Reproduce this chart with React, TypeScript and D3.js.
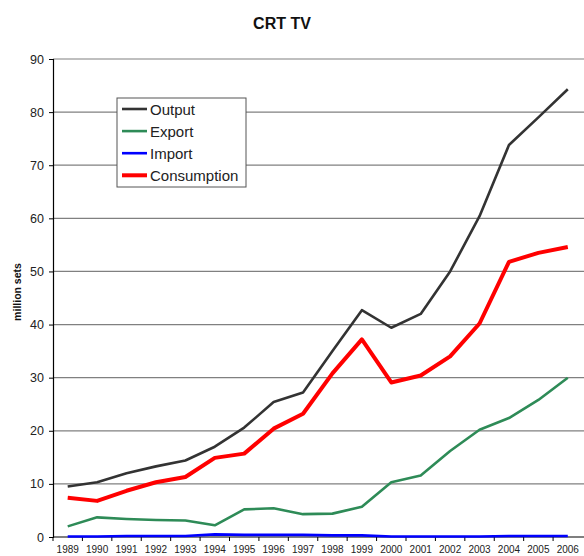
import React, { useRef, useEffect } from "react";
import * as d3 from "d3";

// chart data
const years = [
  "1989", "1990", "1991", "1992", "1993", "1994", "1995", "1996", "1997",
  "1998", "1999", "2000", "2001", "2002", "2003", "2004", "2005", "2006",
];
const output = [9.5, 10.3, 12, 13.3, 14.4, 17, 20.6, 25.4, 27.2, 35, 42.7, 39.4, 42, 50, 60.4, 73.8, 79, 84.3];
const exportVals = [2.0, 3.7, 3.4, 3.2, 3.1, 2.2, 5.2, 5.4, 4.3, 4.4, 5.7, 10.3, 11.6, 16.2, 20.2, 22.4, 25.8, 30.0];
const importVals = [0.1, 0.1, 0.2, 0.2, 0.2, 0.5, 0.4, 0.4, 0.4, 0.3, 0.3, 0.1, 0.1, 0.1, 0.1, 0.2, 0.2, 0.2];
const consumption = [7.4, 6.8, 8.7, 10.3, 11.3, 14.9, 15.7, 20.4, 23.2, 30.8, 37.2, 29.1, 30.4, 34, 40.2, 51.8, 53.5, 54.6];
const yTicks = [0, 10, 20, 30, 40, 50, 60, 70, 80, 90];

const series = [
  { name: "Output", values: output, color: "#333333", width: 2.6 },
  { name: "Export", values: exportVals, color: "#2e8b57", width: 2.6 },
  { name: "Import", values: importVals, color: "#0000ff", width: 2.6 },
  { name: "Consumption", values: consumption, color: "#ff0000", width: 4 },
];

function App() {
  const svgRef = useRef<SVGSVGElement>(null);

  useEffect(() => {
    const svg = d3.select(svgRef.current);
    svg.selectAll("*").remove();

    const font = "'Liberation Sans', Arial, sans-serif";
    const left = 53, right = 582.5, top = 59, bottom = 537;

    const x = d3.scaleBand().domain(years).range([left, right]).padding(0);
    const y = d3.scaleLinear().domain([0, 90]).range([bottom, top]);

    // title
    svg.append("text")
      .attr("x", 282).attr("y", 29)
      .attr("text-anchor", "middle")
      .attr("font-family", font).attr("font-weight", "bold").attr("font-size", 16)
      .attr("fill", "#111")
      .text("CRT TV");

    // gridlines
    svg.append("g")
      .selectAll("line")
      .data(yTicks.filter((d) => d > 0))
      .join("line")
      .attr("x1", left).attr("x2", 584)
      .attr("y1", (d) => y(d)).attr("y2", (d) => y(d))
      .attr("stroke", "#808080").attr("stroke-width", 1.2);

    // y axis
    const yAxis = d3.axisLeft(y).tickValues(yTicks).tickSize(4).tickPadding(5);
    const gy = svg.append("g").attr("transform", `translate(${left},0)`).call(yAxis);
    gy.select(".domain").attr("stroke", "#000").attr("stroke-width", 1.2);
    gy.selectAll(".tick line").attr("stroke", "#000");
    gy.selectAll(".tick text")
      .attr("font-family", font).attr("font-size", 12.5).attr("fill", "#222");

    // x axis with ticks between categories
    const gx = svg.append("g").attr("transform", `translate(0,${bottom})`);
    gx.append("line")
      .attr("x1", left).attr("x2", 584)
      .attr("stroke", "#000").attr("stroke-width", 1.2);
    gx.selectAll(".xt")
      .data(years)
      .join("line")
      .attr("class", "xt")
      .attr("x1", (d) => x(d)!).attr("x2", (d) => x(d)!)
      .attr("y1", 0).attr("y2", 4)
      .attr("stroke", "#000");
    gx.selectAll(".xl")
      .data(years)
      .join("text")
      .attr("class", "xl")
      .attr("x", (d) => x(d)! + x.bandwidth() / 2)
      .attr("y", 16)
      .attr("text-anchor", "middle")
      .attr("font-family", font).attr("font-size", 10).attr("fill", "#222")
      .text((d) => d);

    // y label
    svg.append("text")
      .attr("transform", "translate(21,292) rotate(-90)")
      .attr("text-anchor", "middle")
      .attr("font-family", font).attr("font-weight", "bold").attr("font-size", 10.5)
      .attr("fill", "#111")
      .text("million sets");

    // lines
    const line = d3.line<number>()
      .x((d, i) => x(years[i])! + x.bandwidth() / 2)
      .y((d) => y(d));

    const order = [series[2], series[1], series[0], series[3]];
    svg.append("g")
      .selectAll("path")
      .data(order)
      .join("path")
      .attr("d", (s) => line(s.values))
      .attr("fill", "none")
      .attr("stroke", (s) => s.color)
      .attr("stroke-width", (s) => s.width)
      .attr("stroke-linejoin", "round");

    // legend
    const lg = svg.append("g");
    lg.append("rect")
      .attr("x", 117).attr("y", 98).attr("width", 129).attr("height", 89)
      .attr("fill", "#fff").attr("stroke", "#555").attr("stroke-width", 1);
    series.forEach((s, i) => {
      const ly = 109 + i * 22.1;
      lg.append("line")
        .attr("x1", 122).attr("x2", 147).attr("y1", ly).attr("y2", ly)
        .attr("stroke", s.color).attr("stroke-width", s.width);
      lg.append("text")
        .attr("x", 150).attr("y", ly + 5.5)
        .attr("font-family", font).attr("font-size", 15).attr("fill", "#222")
        .text(s.name);
    });
  }, []);

  return (
    <svg
      ref={svgRef}
      width={584}
      height={556}
      style={{ position: "absolute", left: 0, top: 0, background: "#fff" }}
    ></svg>
  );
}

export default App;
